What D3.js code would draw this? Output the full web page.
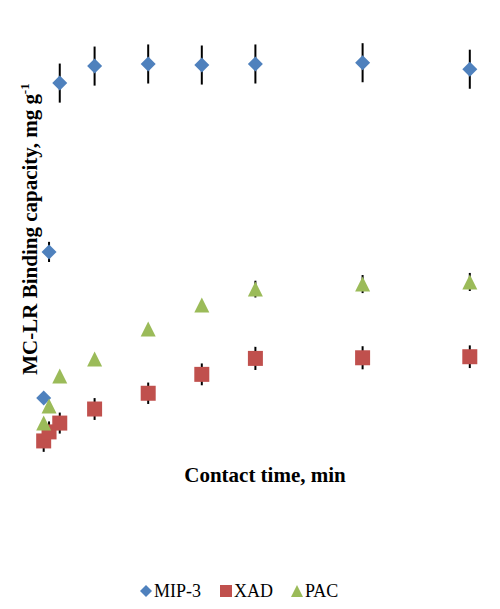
<!DOCTYPE html>
<html>
<head>
<meta charset="utf-8">
<script src="https://cdn.jsdelivr.net/npm/d3@7"></script>
<style>
  body { margin: 0; background: #fff; }
  svg { display: block; }
</style>
</head>
<body>
<svg id="chart" width="500" height="609"></svg>
<script>
// contact time, min
var times = [1, 3, 7, 20, 40, 60, 80, 120, 160];
// binding capacity, mg g-1
var mipValues = [0.271, 0.967, 1.771, 1.852, 1.862, 1.857, 1.862, 1.868, 1.837];
var mipErrors = [0.0, 0.048, 0.093, 0.093, 0.093, 0.093, 0.093, 0.093, 0.093];
var xadValues = [0.067, 0.110, 0.152, 0.219, 0.294, 0.384, 0.460, 0.463, 0.468];
var xadErrors = [0.052, 0.050, 0.050, 0.052, 0.051, 0.052, 0.055, 0.055, 0.054];
var pacValues = [0.152, 0.233, 0.376, 0.457, 0.600, 0.714, 0.790, 0.814, 0.824];
var pacErrors = [0.0, 0.0, 0.0, 0.0, 0.0, 0.02, 0.04, 0.043, 0.043];
var seriesNames = ["MIP-3", "XAD", "PAC"];

var svg = d3.select("svg#chart");

var xScale = d3.scaleLinear().domain([0, 170]).range([41, 41 + 170 * 2.68]);
var yScale = d3.scaleLinear().domain([0, 2]).range([455, 35]);

// marker shapes (Excel-like), s = full size in px
function diamond(s) {
  var h = s / 2;
  return "M0," + (-h) + "L" + h + ",0L0," + h + "L" + (-h) + ",0Z";
}
function square(s) {
  var h = s / 2;
  return "M" + (-h) + "," + (-h) + "H" + h + "V" + h + "H" + (-h) + "Z";
}
function triangle(s) {
  var h = s / 2;
  return "M0," + (-h) + "L" + h + "," + h + "L" + (-h) + "," + h + "Z";
}

var series = [
  {name: seriesNames[0], values: mipValues, errors: mipErrors, color: "#4F81BD", shape: diamond, size: 15},
  {name: seriesNames[1], values: xadValues, errors: xadErrors, color: "#C0504D", shape: square, size: 15},
  {name: seriesNames[2], values: pacValues, errors: pacErrors, color: "#9BBB59", shape: triangle, size: 15}
];

series.forEach(function (s) {
  var g = svg.append("g");
  times.forEach(function (t, i) {
    var v = s.values[i], e = s.errors[i];
    if (e > 0) {
      g.append("line")
        .attr("x1", xScale(t)).attr("x2", xScale(t))
        .attr("y1", yScale(v + e)).attr("y2", yScale(v - e))
        .style("stroke", "#000").style("stroke-width", 2);
    }
  });
  times.forEach(function (t, i) {
    g.append("path")
      .attr("d", s.shape(s.size))
      .attr("transform", "translate(" + xScale(t) + "," + yScale(s.values[i]) + ")")
      .style("fill", s.color);
  });
});

// axis titles
var yTitle = svg.append("text")
  .attr("transform", "translate(37,229) rotate(-90)")
  .attr("text-anchor", "middle")
  .style("font", "bold 21px 'Liberation Serif', 'Times New Roman', serif");
yTitle.append("tspan").text("MC-LR Binding capacity, mg g");
yTitle.append("tspan").attr("dy", -8).style("font-size", "13px").text("-1");

svg.append("text")
  .attr("x", 265).attr("y", 482)
  .attr("text-anchor", "middle")
  .style("font", "bold 21px 'Liberation Serif', 'Times New Roman', serif")
  .text("Contact time, min");

// legend
var legendX = [146, 226, 297];
var legend = svg.append("g");
series.forEach(function (s, i) {
  legend.append("path")
    .attr("d", s.shape(12))
    .attr("transform", "translate(" + legendX[i] + ",591)")
    .style("fill", s.color);
  legend.append("text")
    .attr("x", legendX[i] + 8).attr("y", 597)
    .style("font", "18px 'Liberation Serif', 'Times New Roman', serif")
    .text(s.name);
});
</script>
</body>
</html>
